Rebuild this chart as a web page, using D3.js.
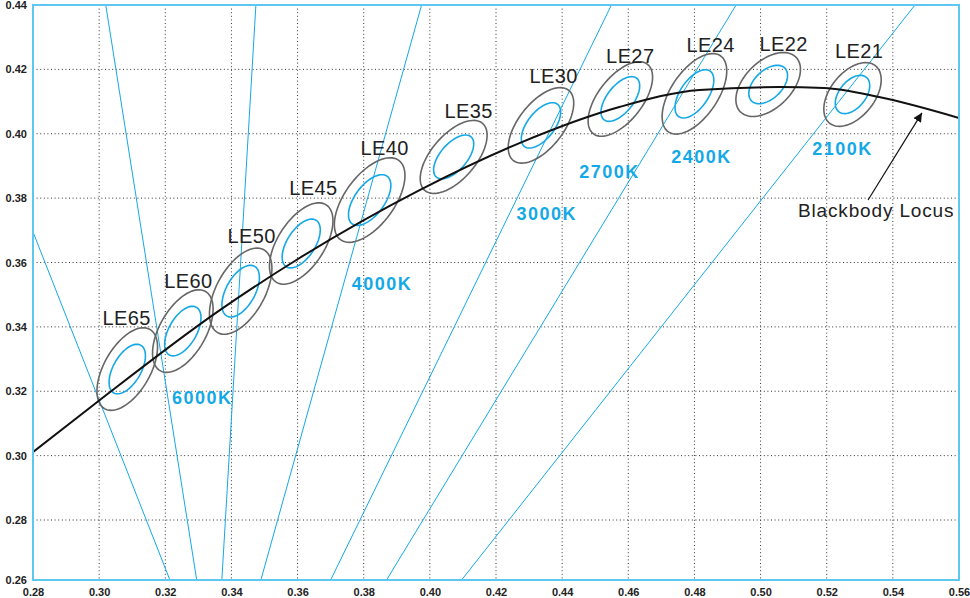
<!DOCTYPE html>
<html>
<head>
<meta charset="utf-8">
<script src="https://cdn.jsdelivr.net/npm/d3@7"></script>
<style>
  body { margin: 0; background: #fff; }
  text { font-family: "Liberation Sans", Arial, sans-serif; }
</style>
</head>
<body>
<div id="chart"></div>
<script>
// ---- data (CIE 1931 x, y)

// ellipse names, centres and 1-step axes
var bins    = ["LE65", "LE60", "LE50", "LE45", "LE40", "LE35", "LE30", "LE27", "LE24", "LE22", "LE21"];
var centerX = [0.3085, 0.3253, 0.3428, 0.3611, 0.3818, 0.4072, 0.4336, 0.4576, 0.4800, 0.5023, 0.5278];
var centerY = [0.3269, 0.3387, 0.3511, 0.3659, 0.3794, 0.3928, 0.4026, 0.4108, 0.4124, 0.4153, 0.4122];
var axisA   = [0.00282, 0.00282, 0.00293, 0.00284, 0.00303, 0.00272, 0.00275, 0.00271, 0.00284, 0.00239, 0.00226];
var axisB   = [0.00141, 0.00141, 0.00147, 0.00142, 0.00151, 0.00136, 0.00137, 0.00135, 0.00142, 0.00143, 0.00135];
var tilt    = [61.4, 61.4, 62.1, 58.3, 54.9, 50.5, 53.1, 53.2, 56.9, 46.0, 53.0];
var outerStep = 5;   // grey
var innerStep = 3;   // blue

// label anchors (centre x, baseline y)
var labelX = [0.3083, 0.3270, 0.3461, 0.3648, 0.3863, 0.4117, 0.4374, 0.4606, 0.4849, 0.5070, 0.5298];
var labelY = [0.3406, 0.3521, 0.3661, 0.3810, 0.3934, 0.4049, 0.4158, 0.4220, 0.4254, 0.4257, 0.4235];

// blackbody locus as traced
var locusX = [0.2800, 0.3002, 0.3365, 0.3606, 0.3969, 0.4271, 0.4573, 0.4815, 0.5056, 0.5192, 0.5358, 0.5600];
var locusY = [0.3011, 0.3173, 0.3452, 0.3614, 0.3825, 0.3971, 0.4083, 0.4136, 0.4145, 0.4142, 0.4114, 0.4049];

// iso-CCT lines, two end points each
var isoX1 = [0.2800, 0.3020, 0.3474, 0.3975, 0.4549, 0.4926, 0.5467];
var isoY1 = [0.3695, 0.4400, 0.4400, 0.4400, 0.4400, 0.4400, 0.4400];
var isoX2 = [0.3214, 0.3295, 0.3371, 0.3489, 0.3700, 0.3869, 0.4096];
var isoY2 = [0.2600, 0.2600, 0.2600, 0.2600, 0.2600, 0.2600, 0.2600];

// CCT labels
var cctNames = ["6000K", "4000K", "3000K", "2700K", "2400K", "2100K"];
var cctX     = [0.3220, 0.3764, 0.4262, 0.4452, 0.4730, 0.5156];
var cctY     = [0.3160, 0.3515, 0.3732, 0.3863, 0.3909, 0.3934];

// locus callout
var calloutText = "Blackbody Locus";
var calloutX = [0.5113, 0.5325, 0.5488];   // text, arrow tail, arrow head
var calloutY = [0.3741, 0.3794, 0.4065];

// ticks
var xTicks = [0.28, 0.30, 0.32, 0.34, 0.36, 0.38, 0.40, 0.42, 0.44, 0.46, 0.48, 0.50, 0.52, 0.54, 0.56];
var yTicks = [0.26, 0.28, 0.30, 0.32, 0.34, 0.36, 0.38, 0.40, 0.42, 0.44];

// colours
var cBlue = "#14a9e6";
var cGrey = "#666666";
var cFrame = "#5ec7f0";

var width = 970, height = 598;

var svg = d3.select("#chart").append("svg")
    .attr("width", width)
    .attr("height", height);

var x = d3.scaleLinear().domain([0.28, 0.56]).range([33, 959]);
// the printed axis is a touch squashed at the bottom
var y = d3.scaleLinear().domain([0.26, 0.28, 0.44]).range([580, 520, 5]);

svg.append("clipPath").attr("id", "plot")
    .append("rect")
    .attr("x", x(0.28)).attr("y", y(0.44))
    .attr("width", x(0.56) - x(0.28)).attr("height", y(0.26) - y(0.44));

// grid
svg.append("g")
    .selectAll("line")
    .data(xTicks.slice(1, -1))
    .enter().append("line")
    .attr("x1", function (d) { return x(d); })
    .attr("x2", function (d) { return x(d); })
    .attr("y1", y(0.44)).attr("y2", y(0.26))
    .attr("stroke", "#333").attr("stroke-width", 1)
    .attr("stroke-dasharray", "1,2.6");

svg.append("g")
    .selectAll("line")
    .data(yTicks.slice(1, -1))
    .enter().append("line")
    .attr("y1", function (d) { return y(d); })
    .attr("y2", function (d) { return y(d); })
    .attr("x1", x(0.28)).attr("x2", x(0.56))
    .attr("stroke", "#333").attr("stroke-width", 1)
    .attr("stroke-dasharray", "1,2.6");

// axes (labels only)
var xAxis = svg.append("g")
    .attr("transform", "translate(0," + y(0.26) + ")")
    .call(d3.axisBottom(x).tickValues(xTicks).tickFormat(d3.format(".2f")).tickSize(0).tickPadding(8));
var yAxis = svg.append("g")
    .attr("transform", "translate(" + x(0.28) + ",0)")
    .call(d3.axisLeft(y).tickValues(yTicks).tickFormat(d3.format(".2f")).tickSize(0).tickPadding(6));
[xAxis, yAxis].forEach(function (g) {
    g.select(".domain").remove();
    g.selectAll("text")
        .attr("font-family", "Liberation Sans, Arial, sans-serif")
        .attr("font-size", "11px")
        .attr("font-weight", "bold")
        .attr("fill", "#222");
});

var plot = svg.append("g").attr("clip-path", "url(#plot)");

// iso-CCT lines
plot.selectAll("line.iso")
    .data(isoX1)
    .enter().append("line")
    .attr("class", "iso")
    .attr("x1", function (d, i) { return x(isoX1[i]); })
    .attr("y1", function (d, i) { return y(isoY1[i]); })
    .attr("x2", function (d, i) { return x(isoX2[i]); })
    .attr("y2", function (d, i) { return y(isoY2[i]); })
    .attr("stroke", cBlue).attr("stroke-width", 1);

// MacAdam style ellipses
function ellipsePoints(i, step) {
    var a = axisA[i] * step, b = axisB[i] * step;
    var th = tilt[i] * Math.PI / 180;
    var pts = [];
    for (var k = 0; k < 72; k++) {
        var t = k / 72 * 2 * Math.PI;
        pts.push([
            centerX[i] + a * Math.cos(th) * Math.cos(t) - b * Math.sin(th) * Math.sin(t),
            centerY[i] + a * Math.sin(th) * Math.cos(t) + b * Math.cos(th) * Math.sin(t)
        ]);
    }
    return pts;
}
var ellLine = d3.line()
    .x(function (p) { return x(p[0]); })
    .y(function (p) { return y(p[1]); })
    .curve(d3.curveLinearClosed);

var gEll = plot.selectAll("g.bin")
    .data(bins)
    .enter().append("g")
    .attr("class", "bin");

gEll.append("path")
    .attr("d", function (d, i) { return ellLine(ellipsePoints(i, outerStep)); })
    .attr("fill", "none").attr("stroke", cGrey).attr("stroke-width", 1.6);

gEll.append("path")
    .attr("d", function (d, i) { return ellLine(ellipsePoints(i, innerStep)); })
    .attr("fill", "none").attr("stroke", cBlue).attr("stroke-width", 1.6);

// blackbody locus
var locus = d3.line()
    .x(function (d, i) { return x(locusX[i]); })
    .y(function (d, i) { return y(locusY[i]); })
    .curve(d3.curveMonotoneX);
plot.append("path")
    .attr("d", locus(locusX))
    .attr("fill", "none").attr("stroke", "#111").attr("stroke-width", 2);

// ellipse labels
gEll.append("text")
    .attr("x", function (d, i) { return x(labelX[i]); })
    .attr("y", function (d, i) { return y(labelY[i]); })
    .attr("text-anchor", "middle")
    .attr("font-size", "20px")
    .attr("letter-spacing", "0.4px")
    .attr("fill", "#222")
    .text(function (d) { return d; });

// CCT labels
svg.append("g")
    .selectAll("text")
    .data(cctNames)
    .enter().append("text")
    .attr("x", function (d, i) { return x(cctX[i]); })
    .attr("y", function (d, i) { return y(cctY[i]); })
    .attr("font-size", "18px")
    .attr("font-weight", "bold")
    .attr("letter-spacing", "1.5px")
    .attr("fill", cBlue)
    .text(function (d) { return d; });

// callout
svg.append("defs").append("marker")
    .attr("id", "head")
    .attr("viewBox", "0 0 10 10")
    .attr("refX", 10).attr("refY", 5)
    .attr("markerWidth", 9).attr("markerHeight", 9)
    .attr("markerUnits", "userSpaceOnUse")
    .attr("orient", "auto")
    .append("path")
    .attr("d", "M0,0 L10,5 L0,10 Z")
    .attr("fill", "#111");

svg.append("line")
    .attr("x1", x(calloutX[1])).attr("y1", y(calloutY[1]))
    .attr("x2", x(calloutX[2])).attr("y2", y(calloutY[2]))
    .attr("stroke", "#111").attr("stroke-width", 1.2)
    .attr("marker-end", "url(#head)");

svg.append("text")
    .attr("x", x(calloutX[0])).attr("y", y(calloutY[0]))
    .attr("font-size", "19px")
    .attr("letter-spacing", "0.85px")
    .attr("fill", "#222")
    .text(calloutText);

// frame
svg.append("rect")
    .attr("x", x(0.28)).attr("y", y(0.44))
    .attr("width", x(0.56) - x(0.28)).attr("height", y(0.26) - y(0.44))
    .attr("fill", "none").attr("stroke", cFrame).attr("stroke-width", 2);
</script>
</body>
</html>
